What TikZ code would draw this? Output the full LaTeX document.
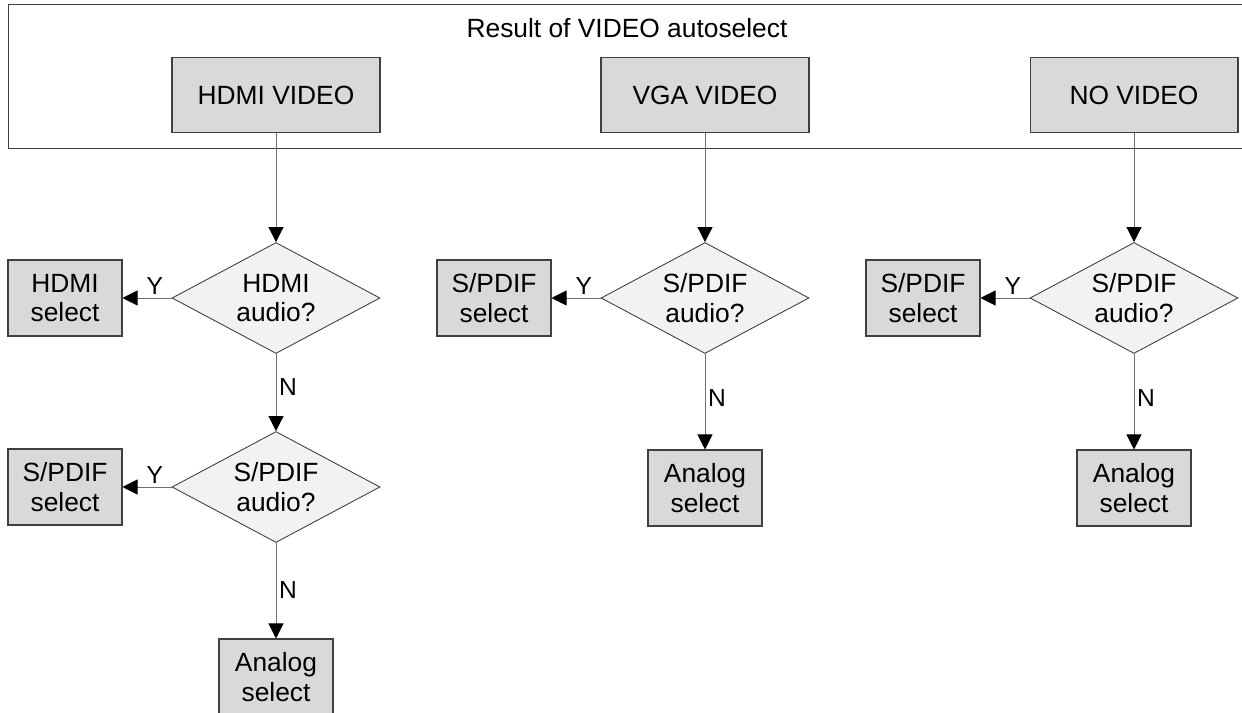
\documentclass[tikz,border=0pt]{standalone}
\usepackage{fontspec}
\setmainfont{Liberation Sans}
\usepackage{xcolor}
\usetikzlibrary{shapes.geometric,arrows.meta}
\definecolor{boxgray}{RGB}{217, 217, 217}
\definecolor{askgray}{RGB}{242, 242, 242}
\definecolor{edgegray}{RGB}{64, 64, 64}
\definecolor{wiregray}{RGB}{110, 110, 110}

\begin{document}
\begin{tikzpicture}[x=0.02cm, y=-0.02cm,
    vid/.style={rectangle, draw=edgegray, fill=boxgray, line width=0.6pt,
                minimum width=4.16cm, minimum height=1.5cm,
                font=\fontsize{15}{17}\selectfont},
    sel/.style={rectangle, draw=edgegray, fill=boxgray, line width=0.6pt,
                minimum width=2.28cm, minimum height=1.52cm, inner sep=0pt,
                align=center, font=\fontsize{15}{16.6}\selectfont},
    ask/.style={diamond, aspect=1.87, draw=edgegray, fill=askgray,
                line width=0.5pt, minimum width=4.16cm, minimum height=2.22cm,
                inner sep=0pt, align=center, font=\fontsize{15}{16.6}\selectfont},
    arr/.style={-{Triangle[length=0.3cm, width=0.3cm, color=black]},
                line width=0.5pt, color=wiregray},
    lbl/.style={font=\fontsize{14}{16}\selectfont, inner sep=1.5pt, color=black}]

    \useasboundingbox (0,0) rectangle (1242,713);

    % Rezultat autoselect
    \node[draw=edgegray, line width=0.6pt, anchor=north west,
          minimum width=25.1cm, minimum height=2.88cm] (result) at (8,4) {};
    \node[font=\fontsize{15}{17}\selectfont] (title) at (627,28)
        {Result of VIDEO autoselect};
    \node[vid] (hdmiv) at (276,95)  {HDMI VIDEO};
    \node[vid] (vgav)  at (705,95)  {VGA VIDEO};
    \node[vid] (nov)   at (1134,95) {NO VIDEO};

    % Coloana HDMI
    \node[ask] (hdmiq)   at (276,298) {HDMI\\audio?};
    \node[sel] (hdmisel) at (65,298)  {HDMI\\select};
    \node[ask] (spdifqa)   at (276,487) {S/PDIF\\audio?};
    \node[sel] (spdifsela) at (65,487)  {S/PDIF\\select};
    \node[sel] (analoga)   at (276,677) {Analog\\select};

    % Coloana VGA
    \node[ask] (spdifqb)   at (705,298) {S/PDIF\\audio?};
    \node[sel] (spdifselb) at (494,298) {S/PDIF\\select};
    \node[sel] (analogb)   at (705,488) {Analog\\select};

    % Coloana fara video
    \node[ask] (spdifqc)   at (1134,298) {S/PDIF\\audio?};
    \node[sel] (spdifselc) at (923,298)  {S/PDIF\\select};
    \node[sel] (analogc)   at (1134,488) {Analog\\select};

    % Sageti
    \draw[arr] (hdmiv) -- (hdmiq);
    \draw[arr] (hdmiq) -- (hdmisel) node[lbl, pos=0.34, above] {Y};
    \draw[arr] (hdmiq) -- (spdifqa) node[lbl, pos=0.43, right] {N};
    \draw[arr] (spdifqa) -- (spdifsela) node[lbl, pos=0.34, above] {Y};
    \draw[arr] (spdifqa) -- (analoga) node[lbl, pos=0.49, right] {N};

    \draw[arr] (vgav) -- (spdifqb);
    \draw[arr] (spdifqb) -- (spdifselb) node[lbl, pos=0.34, above] {Y};
    \draw[arr] (spdifqb) -- (analogb) node[lbl, pos=0.46, right] {N};

    \draw[arr] (nov) -- (spdifqc);
    \draw[arr] (spdifqc) -- (spdifselc) node[lbl, pos=0.34, above] {Y};
    \draw[arr] (spdifqc) -- (analogc) node[lbl, pos=0.46, right] {N};

\end{tikzpicture}
\end{document}
